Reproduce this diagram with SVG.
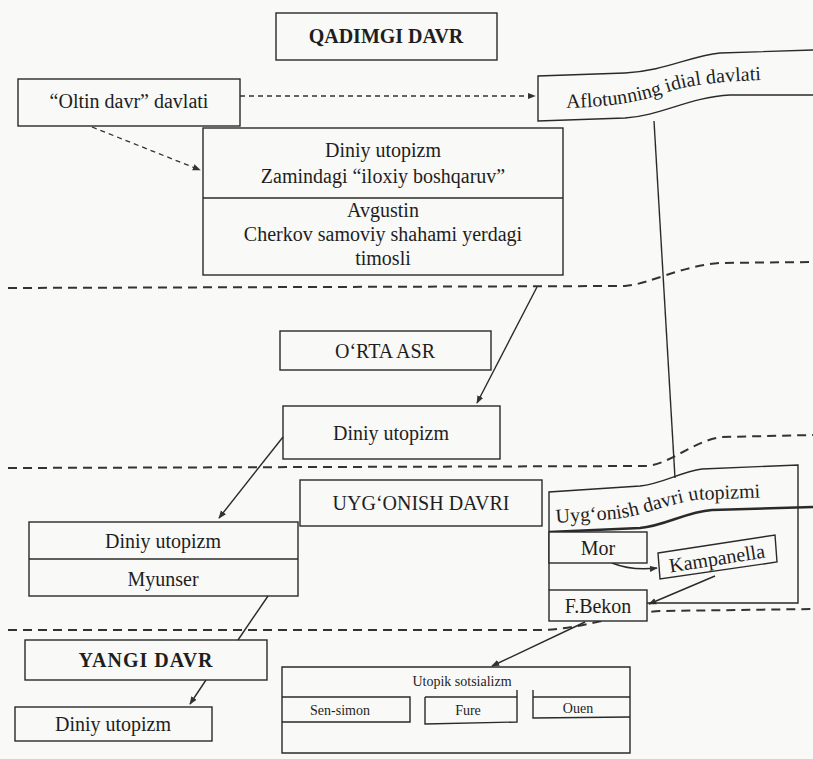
<svg xmlns="http://www.w3.org/2000/svg" width="813" height="759" viewBox="0 0 813 759">
<style>
.box{fill:none;stroke:#2a2a2a;stroke-width:1.4}
.wbox{fill:#f9f9f7;stroke:#2a2a2a;stroke-width:1.4}
.t{font-family:"Liberation Serif","Times New Roman",serif;font-size:20px;fill:#1e1e1e;text-anchor:middle}
.tb{font-family:"Liberation Serif","Times New Roman",serif;font-size:20px;font-weight:bold;fill:#1e1e1e;text-anchor:middle}
.ts{font-family:"Liberation Serif","Times New Roman",serif;font-size:14px;fill:#1e1e1e;text-anchor:middle}
.sep{fill:none;stroke:#333;stroke-width:2;stroke-dasharray:9 6}
.dash{fill:none;stroke:#333;stroke-width:1.3;stroke-dasharray:5 4}
.ln{fill:none;stroke:#2a2a2a;stroke-width:1.4}
</style>
<defs>
<marker id="ah" viewBox="0 0 10 10" refX="9" refY="5" markerWidth="8" markerHeight="8" orient="auto" markerUnits="userSpaceOnUse">
<path d="M0,1 L10,5 L0,9 Z" fill="#333"/>
</marker>
<path id="pAflo" d="M566,108 C610,107 640,102 668,92 C690,85 715,81 790,79"/>
<path id="pUyg" d="M556,523 L615,519 C645,515 665,505 695,500 L800,496"/>
</defs>
<rect width="813" height="759" fill="#f9f9f7"/>

<g id="separators">
<path class="sep" d="M8,288 L625,286 C650,284 680,266 720,263 L813,262"/>
<path class="sep" d="M8,468 L645,466 C670,465 692,441 722,437 L813,435"/>
<path class="sep" d="M8,630 L545,630 C585,628 620,614 660,611 L813,609"/>
</g>

<g id="connectors">
<path class="dash" d="M240,96 L535,96" marker-end="url(#ah)"/>
<path class="dash" d="M92,127 L200,170" marker-end="url(#ah)"/>
<path class="ln" d="M654,121 L675,478"/>
<path class="ln" d="M537,287 L477,403" marker-end="url(#ah)"/>
<path class="ln" d="M283,437 L219,518" marker-end="url(#ah)"/>
<path class="ln" d="M268,596 L238,640"/>
<path class="ln" d="M206,680 L190,704" marker-end="url(#ah)"/>
<path class="ln" d="M612,563 Q632,571 657,568" marker-end="url(#ah)"/>
<path class="ln" d="M715,576 L649,604" marker-end="url(#ah)"/>
<path class="ln" d="M585,622 L492,666" marker-end="url(#ah)"/>
</g>

<g id="qadimgi">
<rect class="box" x="276" y="13" width="221" height="47"/>
<text class="tb" x="386" y="43">QADIMGI DAVR</text>
</g>

<g id="oltin">
<rect class="box" x="18" y="79" width="222" height="47"/>
<text class="t" x="129" y="108">“Oltin davr” davlati</text>
</g>

<g id="aflotun">
<path class="wbox" d="M813,50 L720,53 C690,56 665,71 625,73 L538,76 L538,121 L625,118 C660,116 690,97 730,95 L813,95"/>
<text class="t" style="text-anchor:start"><textPath href="#pAflo">Aflotunning idial davlati</textPath></text>
</g>

<g id="diniy-qadim">
<rect class="box" x="203" y="128" width="360" height="147"/>
<line class="ln" x1="203" y1="198" x2="563" y2="198"/>
<text class="t" x="383" y="157">Diniy utopizm</text>
<text class="t" x="383" y="183">Zamindagi “iloxiy boshqaruv”</text>
<text class="t" x="383" y="217">Avgustin</text>
<text class="t" x="383" y="241">Cherkov samoviy shahami yerdagi</text>
<text class="t" x="383" y="265">timosli</text>
</g>

<g id="orta">
<rect class="box" x="280" y="331" width="211" height="39"/>
<text class="t" x="385" y="358">O‘RTA ASR</text>
</g>

<g id="diniy-orta">
<rect class="box" x="283" y="406" width="217" height="53"/>
<text class="t" x="391" y="440">Diniy utopizm</text>
</g>

<g id="uygonish">
<rect class="box" x="300" y="480" width="242" height="46"/>
<text class="t" x="421" y="510">UYG‘ONISH DAVRI</text>
</g>

<g id="myunser">
<rect class="box" x="29" y="522" width="269" height="74"/>
<line class="ln" x1="29" y1="559" x2="298" y2="559"/>
<text class="t" x="163" y="548">Diniy utopizm</text>
<text class="t" x="163" y="586">Myunser</text>
</g>

<g id="uyg-utopizm">
<path class="ln" d="M549,590 L549,492 L640,486 C662,484 680,472 702,469 L798,465 L798,603 L647,603"/>
<path class="ln" style="stroke-width:2.6" d="M549,532 L640,528 C665,526 685,512 712,510 L813,507"/>
<text class="t" style="text-anchor:start"><textPath href="#pUyg">Uyg‘onish davri utopizmi</textPath></text>
</g>

<g id="mor">
<rect class="wbox" x="549" y="532" width="98" height="31"/>
<text class="t" x="598" y="555">Mor</text>
</g>

<g id="kampanella">
<polygon class="wbox" points="658,553 775,535 777,562 660,579"/>
<text class="t" x="0" y="0" transform="translate(718,565) rotate(-9)">Kampanella</text>
</g>

<g id="fbekon">
<rect class="wbox" x="549" y="590" width="98" height="31"/>
<text class="t" x="598" y="613">F.Bekon</text>
</g>

<g id="yangi">
<rect class="box" x="25" y="640" width="242" height="40"/>
<text class="tb" x="146" y="667" style="letter-spacing:1px">YANGI DAVR</text>
</g>

<g id="diniy-yangi">
<rect class="box" x="15" y="707" width="197" height="34"/>
<text class="t" x="113" y="731">Diniy utopizm</text>
</g>

<g id="utopik">
<path class="ln" d="M282,667 L630,667 L630,753 L282,753 Z"/>
<path class="ln" d="M282,697 L410,697 L410,722 L282,722"/>
<path class="ln" d="M425,697 L425,724 L517,722 L517,690"/>
<path class="ln" d="M533,690 L533,718 L630,717"/>
<line class="ln" x1="425" y1="697" x2="517" y2="697"/>
<line class="ln" x1="533" y1="697" x2="630" y2="697"/>
<text class="ts" x="462" y="686">Utopik sotsializm</text>
<text class="ts" x="340" y="715">Sen-simon</text>
<text class="ts" x="468" y="715">Fure</text>
<text class="ts" x="578" y="713">Ouen</text>
</g>
</svg>
